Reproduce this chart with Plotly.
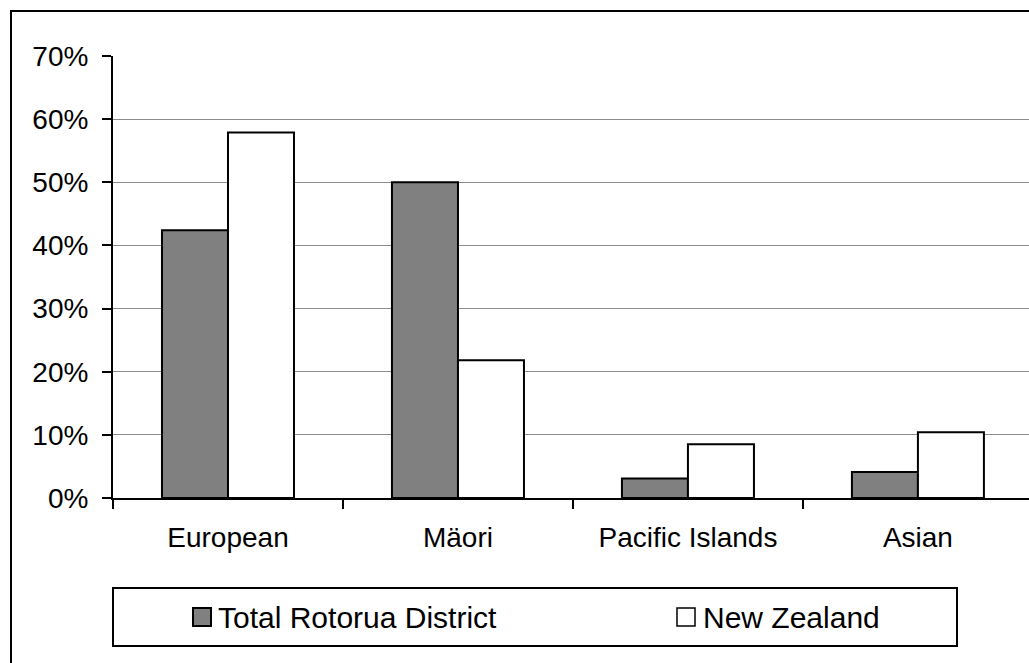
import plotly.graph_objects as go

# Ethnic group shares (percent of population)
categories = ["European", "Mäori", "Pacific Islands", "Asian"]
rotorua = [42.4, 50.0, 3.1, 4.1]
new_zealand = [57.9, 21.8, 8.5, 10.4]
series_names = ["Total Rotorua District", "New Zealand"]
y_ticks = [0, 10, 20, 30, 40, 50, 60, 70]

W, H = 1029, 663
L, T, B = 113, 56, 165          # plot area margins in pixels
PLOT_W = W - L
PLOT_H = H - T - B


def px(x):
    return (x - L) / PLOT_W


def py(y):
    return (H - B - y) / PLOT_H


FONT = "Liberation Sans, Arial, sans-serif"
GRAY = "#808080"

fig = go.Figure()
fig.add_trace(go.Bar(x=categories, y=rotorua, name=series_names[0],
                     marker=dict(color=GRAY, line=dict(color="black", width=2)),
                     showlegend=False))
fig.add_trace(go.Bar(x=categories, y=new_zealand, name=series_names[1],
                     marker=dict(color="white", line=dict(color="black", width=2)),
                     showlegend=False))

shapes = []
# outer chart frame (runs off the right and bottom edges)
shapes.append(dict(type="rect", xref="paper", yref="paper",
                   x0=px(11), x1=px(W + 20), y0=py(H + 20), y1=py(11),
                   line=dict(color="black", width=2), layer="below"))
# legend frame
shapes.append(dict(type="rect", xref="paper", yref="paper",
                   x0=px(113), x1=px(957), y0=py(646), y1=py(588),
                   line=dict(color="black", width=2)))
# legend swatches
shapes.append(dict(type="rect", xref="paper", yref="paper",
                   x0=px(193), x1=px(211), y0=py(626), y1=py(608),
                   fillcolor=GRAY, line=dict(color="black", width=2)))
shapes.append(dict(type="rect", xref="paper", yref="paper",
                   x0=px(677), x1=px(695), y0=py(626), y1=py(608),
                   fillcolor="white", line=dict(color="black", width=1.5)))

annotations = [
    dict(xref="paper", yref="paper", x=px(216), y=py(617), text=series_names[0],
         showarrow=False, xanchor="left", yanchor="middle",
         font=dict(family=FONT, size=30, color="black")),
    dict(xref="paper", yref="paper", x=px(701), y=py(617), text=series_names[1],
         showarrow=False, xanchor="left", yanchor="middle",
         font=dict(family=FONT, size=30, color="black")),
]

fig.update_layout(
    width=W, height=H,
    margin=dict(l=L, r=0, t=T, b=B),
    paper_bgcolor="white", plot_bgcolor="white",
    barmode="group", bargap=0.426, bargroupgap=0,
    font=dict(family=FONT, size=28, color="black"),
    shapes=shapes, annotations=annotations,
    showlegend=False,
)
fig.update_xaxes(
    type="category", range=[-0.5, 3.483],
    showline=True, linecolor="black", linewidth=2,
    ticks="outside", tickson="boundaries", ticklen=9, tickwidth=2, tickcolor="black",
    ticklabelstandoff=13,
    showgrid=False, tickfont=dict(size=28),
)
fig.update_yaxes(
    range=[0, 70], tickvals=y_ticks, ticktext=[f"{v}%" for v in y_ticks],
    showline=True, linecolor="black", linewidth=2,
    ticks="outside", ticklen=9, tickwidth=2, tickcolor="black",
    ticklabelstandoff=8,
    showgrid=True, gridcolor="#8c8c8c", gridwidth=1,
    zeroline=False, tickfont=dict(size=28),
)

fig.write_html("out.html")
